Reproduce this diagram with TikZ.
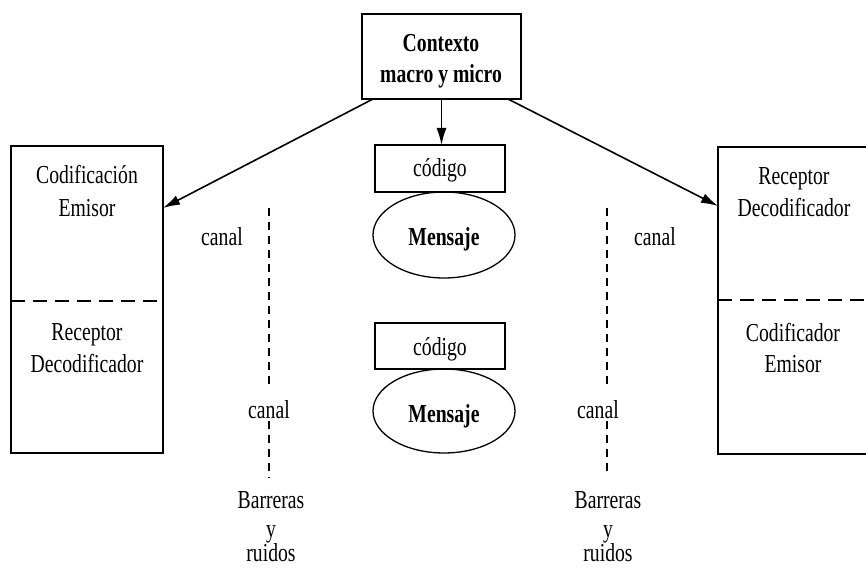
\documentclass[tikz,border=0pt]{standalone}
\usepackage{fontspec}
\setmainfont{Liberation Serif}[FakeStretch=0.76]
\usetikzlibrary{arrows.meta,shapes.geometric,calc}
\tikzset{
  box/.style={draw, line width=1.7bp, inner sep=0pt, outer sep=0pt},
  oval/.style={draw, ellipse, line width=1.3bp, inner sep=0pt, outer sep=0pt},
  lbl/.style={inner sep=0pt, anchor=base, font=\fontsize{26}{30}\selectfont},
  blbl/.style={inner sep=0pt, anchor=base, font=\fontsize{26}{30}\selectfont\bfseries},
  arr/.style={line width=1.6bp, -{Latex[length=17bp,width=10bp]}},
  chan/.style={line width=1.8bp, dash pattern=on 8bp off 6bp},
  split/.style={line width=1.7bp, dash pattern=on 14bp off 8bp}
}
\begin{document}
\begin{tikzpicture}[x=1bp,y=-1bp]
\useasboundingbox[fill=white] (0,0) rectangle (866,572);
% boxes
\node[box, minimum width=159bp, minimum height=85bp] (ctx) at (441.5,56.5) {};
\node[box, minimum width=152bp, minimum height=307bp] (lbox) at (87,299.5) {};
\node[box, minimum width=162bp, minimum height=307bp] (rbox) at (799,300.5) {};
\node[box, minimum width=130bp, minimum height=47bp] (code1) at (440,168.5) {};
\node[box, minimum width=130bp, minimum height=46bp] (code2) at (440,346) {};
\node[oval, minimum width=142bp, minimum height=86bp] (ell1) at (444,235) {};
\node[oval, minimum width=142bp, minimum height=84bp] (ell2) at (444,411) {};
% split lines
\coordinate (ls) at (0,301);
\coordinate (rs) at (0,300);
\draw[split] (lbox.west |- ls) -- (lbox.east |- ls);
\draw[split] (rbox.west |- rs) -- (rbox.east |- rs);
% arrows
\draw[arr] ([xshift=11bp]ctx.south west) -- ([yshift=-62bp]lbox.north east);
\draw[arr] ([xshift=-13bp]ctx.south east) -- ([yshift=-59bp]rbox.north west);
\draw[arr] (ctx.south) -- (ctx.south |- code1.north);
% texts
\node[blbl] (ctx1) at (441,52) {Contexto};
\node[blbl] (ctx2) at (441,83) {macro y micro};
\node[lbl] (lb1) at (87,184) {Codificación};
\node[lbl] (lb2) at (87,217) {Emisor};
\node[lbl] (lb3) at (87,340) {Receptor};
\node[lbl] (lb4) at (87,372) {Decodificador};
\node[lbl] (rb1) at (794,185) {Receptor};
\node[lbl] (rb2) at (794,217) {Decodificador};
\node[lbl] (rb3) at (793,341) {Codificador};
\node[lbl] (rb4) at (793,372) {Emisor};
\node[lbl] (c1) at (440,177) {código};
\node[lbl] (c2) at (440,355) {código};
\node[blbl] (m1) at (444,246) {Mensaje};
\node[blbl] (m2) at (444,422) {Mensaje};
% channels
\node[lbl] (lc1) at (222,246) {canal};
\node[lbl] (rc1) at (655,246) {canal};
\node[lbl] (lc2) at (269,418) {canal};
\node[lbl] (rc2) at (598,418) {canal};
\coordinate (lt) at (269,208);
\coordinate (lbt) at (269,478);
\coordinate (rt) at (607,208);
\coordinate (rbt) at (607,477);
\draw[chan, shorten >=12bp] (lt) -- (lt |- lc2.north);
\draw[chan, shorten <=3bp] (lbt |- lc2.south) -- (lbt);
\draw[chan, shorten >=12bp] (rt) -- (rt |- rc2.north);
\draw[chan, shorten <=3bp] (rbt |- rc2.south) -- (rbt);
% barriers
\node[lbl] (lr1) at (271,508) {Barreras};
\node[lbl] (lr2) at (271,537) {y};
\node[lbl] (lr3) at (271,561) {ruidos};
\node[lbl] (rr1) at (608,508) {Barreras};
\node[lbl] (rr2) at (608,537) {y};
\node[lbl] (rr3) at (608,561) {ruidos};
\end{tikzpicture}
\end{document}
